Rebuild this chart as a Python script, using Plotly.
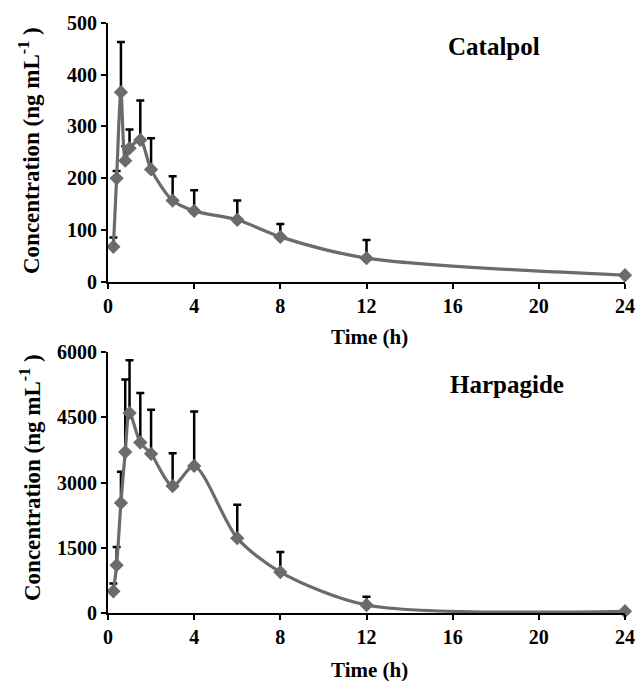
import plotly.graph_objects as go

# ---- data ----
time_h = [0.25, 0.4, 0.6, 0.8, 1, 1.5, 2, 3, 4, 6, 8, 12, 24]

catalpol_mean = [68, 200, 366, 234, 258, 274, 217, 157, 137, 120, 87, 46, 13]
catalpol_upper = [86, 214, 463, 262, 294, 350, 277, 204, 177, 157, 112, 81, 13]

harpagide_mean = [500, 1100, 2530, 3700, 4600, 3920, 3660, 2920, 3380, 1720, 940, 184, 40]
harpagide_upper = [680, 1520, 3250, 5370, 5810, 5060, 4670, 3670, 4630, 2490, 1400, 375, 40]

x_ticks = [0, 4, 8, 12, 16, 20, 24]
catalpol_ticks = [0, 100, 200, 300, 400, 500]
harpagide_ticks = [0, 1500, 3000, 4500, 6000]

W, H = 639, 681
FONT = "Liberation Serif"
GRAY = "#6b6b6b"

def px_x(p):
    return p / W

def px_y(p):
    return 1 - p / H

fig = go.Figure()

def add_series(mean, upper, xa, ya):
    fig.add_trace(go.Scatter(
        x=time_h, y=mean, xaxis=xa, yaxis=ya,
        mode="lines+markers",
        line=dict(color=GRAY, width=3.2, shape="spline", smoothing=0.8),
        marker=dict(symbol="diamond", size=11, color=GRAY),
        error_y=dict(type="data", symmetric=False,
                     array=[u - m for u, m in zip(upper, mean)],
                     arrayminus=[0] * len(mean),
                     color="black", thickness=2.5, width=4),
        cliponaxis=False, showlegend=False, hoverinfo="x+y",
    ))

add_series(catalpol_mean, catalpol_upper, "x", "y")
add_series(harpagide_mean, harpagide_upper, "x2", "y2")

axis_common = dict(
    showline=True, linecolor="black", linewidth=2,
    ticks="outside", ticklen=5, tickwidth=2, tickcolor="black",
    showgrid=False, zeroline=False, automargin=False,
    tickfont=dict(family=FONT, size=20, color="black", weight="bold"),
)

xdom = [px_x(108), px_x(625)]
fig.update_layout(
    width=W, height=H,
    margin=dict(l=0, r=0, t=0, b=0, autoexpand=False),
    showlegend=False,
    paper_bgcolor="white", plot_bgcolor="white",
    xaxis=dict(domain=xdom, anchor="y", range=[0, 24], tickvals=x_ticks, **axis_common),
    yaxis=dict(domain=[px_y(282), px_y(22.7)], anchor="x", range=[0, 500],
               tickvals=catalpol_ticks, **axis_common),
    xaxis2=dict(domain=xdom, anchor="y2", range=[0, 24], tickvals=x_ticks, **axis_common),
    yaxis2=dict(domain=[px_y(613), px_y(352)], anchor="x2", range=[0, 6000],
                tickvals=harpagide_ticks, **axis_common),
)

def ann(text, xp, yp, size, angle=0):
    fig.add_annotation(text=text, x=px_x(xp), y=px_y(yp), xref="paper", yref="paper",
                       showarrow=False, textangle=angle, xanchor="center", yanchor="middle",
                       font=dict(family=FONT, size=size, color="black", weight="bold"))

ann("Catalpol", 494, 47, 25)
ann("Harpagide", 507, 385, 25)
ann("Time (h)", 369, 337, 21)
ann("Time (h)", 369, 670, 21)
ann("Concentration (ng mL<sup>-1</sup> )", 30, 151, 23, -90)
ann("Concentration (ng mL<sup>-1</sup> )", 30, 478, 23, -90)

fig.write_html("out.html", config={"displayModeBar": False},
               post_script="document.body.style.margin='0px';")
